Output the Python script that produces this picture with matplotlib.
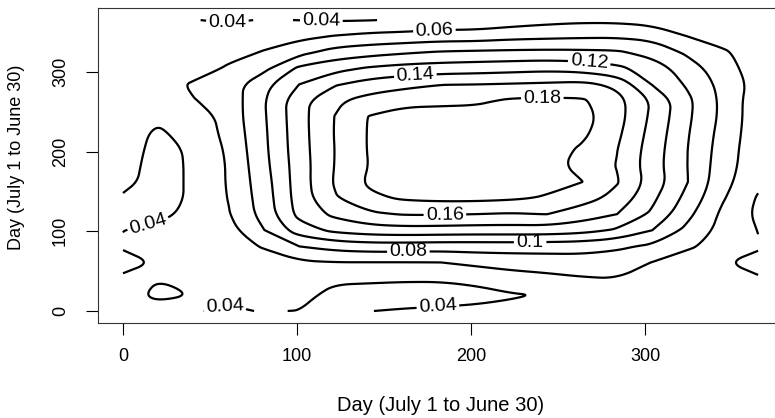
import numpy as np
import matplotlib
matplotlib.use("Agg")
import matplotlib.pyplot as plt
from matplotlib import font_manager
from matplotlib.path import Path

# ---- data ----
day_x = np.linspace(0, 365, 19)
day_y = np.linspace(0, 365, 19)
levels = [0.04, 0.06, 0.08, 0.10, 0.12, 0.14, 0.16, 0.18]
# rows: day_y from 0 (bottom) to 365 (top); columns: day_x from 0 to 365
density = np.array([
    [0.043, 0.045, 0.0404, 0.039, 0.0404, 0.0398, 0.038, 0.0399, 0.0408, 0.0416, 0.0428, 0.0439, 0.046, 0.047, 0.047, 0.046, 0.045, 0.045, 0.045],
    [0.045, 0.037, 0.0403, 0.0419, 0.045, 0.0438, 0.0365, 0.036, 0.0357, 0.0357, 0.036, 0.0385, 0.0413, 0.046, 0.048, 0.047, 0.046, 0.046, 0.046],
    [0.042, 0.0403, 0.043, 0.046, 0.048, 0.048, 0.0421, 0.0416, 0.0411, 0.0411, 0.0433, 0.0518, 0.055, 0.0585, 0.0599, 0.052, 0.046, 0.043, 0.0412],
    [0.036, 0.0411, 0.046, 0.049, 0.051, 0.057, 0.0595, 0.0595, 0.0595, 0.0598, 0.065, 0.0674, 0.0693, 0.0708, 0.0689, 0.0595, 0.048, 0.0408, 0.036],
    [0.0412, 0.043, 0.047, 0.052, 0.0617, 0.0801, 0.0872, 0.0904, 0.0902, 0.089, 0.0892, 0.0895, 0.0889, 0.0881, 0.0837, 0.0765, 0.0635, 0.051, 0.0415],
    [0.0398, 0.0441, 0.046, 0.053, 0.0797, 0.1103, 0.1249, 0.131, 0.1328, 0.132, 0.131, 0.131, 0.131, 0.127, 0.1175, 0.1001, 0.0749, 0.0535, 0.0395],
    [0.037, 0.036, 0.0443, 0.059, 0.0878, 0.1263, 0.1448, 0.157, 0.1616, 0.1616, 0.1602, 0.1585, 0.1605, 0.1506, 0.1402, 0.1166, 0.0853, 0.0558, 0.036],
    [0.0385, 0.035, 0.042, 0.061, 0.0897, 0.1292, 0.1583, 0.176, 0.183, 0.185, 0.185, 0.183, 0.1782, 0.1681, 0.1543, 0.1245, 0.0939, 0.062, 0.038],
    [0.0435, 0.035, 0.042, 0.062, 0.0917, 0.1301, 0.1618, 0.184, 0.19, 0.192, 0.193, 0.192, 0.187, 0.1805, 0.1616, 0.1316, 0.1005, 0.0663, 0.045],
    [0.045, 0.035, 0.042, 0.0621, 0.0943, 0.1304, 0.1604, 0.181, 0.189, 0.192, 0.193, 0.191, 0.186, 0.1749, 0.1591, 0.1292, 0.0999, 0.0691, 0.047],
    [0.046, 0.036, 0.042, 0.0637, 0.0959, 0.1316, 0.1601, 0.182, 0.19, 0.193, 0.194, 0.193, 0.189, 0.1773, 0.1605, 0.1306, 0.1001, 0.0709, 0.047],
    [0.047, 0.0375, 0.0464, 0.066, 0.0968, 0.1322, 0.1608, 0.182, 0.19, 0.193, 0.194, 0.193, 0.19, 0.1845, 0.1643, 0.133, 0.1015, 0.0728, 0.048],
    [0.047, 0.0432, 0.048, 0.068, 0.0979, 0.1328, 0.1604, 0.1815, 0.188, 0.19, 0.191, 0.191, 0.191, 0.1875, 0.1677, 0.1357, 0.1036, 0.0751, 0.048],
    [0.048, 0.046, 0.0589, 0.068, 0.0988, 0.1331, 0.157, 0.168, 0.1747, 0.175, 0.1761, 0.1834, 0.1838, 0.183, 0.1671, 0.1377, 0.1046, 0.0753, 0.048],
    [0.048, 0.047, 0.0639, 0.07, 0.0947, 0.1205, 0.1385, 0.1494, 0.155, 0.1598, 0.1605, 0.162, 0.1635, 0.166, 0.1556, 0.1196, 0.0974, 0.074, 0.052],
    [0.047, 0.047, 0.048, 0.0637, 0.0755, 0.1045, 0.114, 0.123, 0.1278, 0.130, 0.1314, 0.1332, 0.1352, 0.1326, 0.125, 0.1108, 0.0897, 0.0689, 0.05],
    [0.046, 0.047, 0.049, 0.052, 0.0617, 0.0742, 0.0881, 0.0932, 0.0979, 0.102, 0.1035, 0.1044, 0.105, 0.1044, 0.103, 0.093, 0.0767, 0.0629, 0.05],
    [0.045, 0.046, 0.048, 0.049, 0.05, 0.055, 0.061, 0.0653, 0.067, 0.0696, 0.0699, 0.0738, 0.0755, 0.077, 0.0775, 0.0745, 0.0598, 0.052, 0.048],
    [0.044, 0.043, 0.0405, 0.038, 0.0409, 0.0398, 0.0385, 0.0395, 0.042, 0.045, 0.046, 0.05, 0.054, 0.0563, 0.056, 0.052, 0.049, 0.047, 0.046],
])
x_ticks = [0, 100, 200, 300]
y_ticks = [0, 100, 200, 300]
x_title = "Day (July 1 to June 30)"
y_title = "Day (July 1 to June 30)"

# where the contour labels sit (layout, in data units)
label_spots = [(60, 362), (114, 364), (179, 350), (268, 314), (168, 296),
               (241, 268), (14, 112), (185, 120.5), (164, 74), (234, 86.6),
               (58.6, 3), (181, 5)]


def has_font(name):
    try:
        font_manager.findfont(font_manager.FontProperties(family=name),
                              fallback_to_default=False)
        return True
    except Exception:
        return False


def rounded(pts, closed, n=3):
    """Round the corners of a drawn contour polyline (Chaikin corner cutting)."""
    for _ in range(n):
        if len(pts) < 3:
            break
        if closed:
            p, q = pts, np.roll(pts, -1, axis=0)
            out = np.empty((2 * len(p), 2))
            out[0::2] = 0.75 * p + 0.25 * q
            out[1::2] = 0.25 * p + 0.75 * q
            pts = out
        else:
            p, q = pts[:-1], pts[1:]
            mid = np.empty((2 * len(p), 2))
            mid[0::2] = 0.75 * p + 0.25 * q
            mid[1::2] = 0.25 * p + 0.75 * q
            pts = np.vstack([pts[:1], mid, pts[-1:]])
    return pts


def round_paths(cset):
    new_paths = []
    for path in cset.get_paths():
        verts = path.vertices
        codes = path.codes
        if len(verts) == 0:
            new_paths.append(path)
            continue
        if codes is None:
            codes = np.full(len(verts), Path.LINETO, dtype=np.uint8)
            codes[0] = Path.MOVETO
        starts = list(np.where(codes == Path.MOVETO)[0])
        ends = starts[1:] + [len(verts)]
        vs, cs_ = [], []
        for s, e in zip(starts, ends):
            seg = verts[s:e]
            sc = codes[s:e]
            closed = sc[-1] == Path.CLOSEPOLY
            if closed:
                seg = seg[:-1]
            elif len(seg) > 3 and np.allclose(seg[0], seg[-1]):
                closed = True
                seg = seg[:-1]
            sm = rounded(seg, closed)
            if closed:
                sm = np.vstack([sm, sm[:1]])
                c = [Path.MOVETO] + [Path.LINETO] * (len(sm) - 2) + [Path.CLOSEPOLY]
            else:
                c = [Path.MOVETO] + [Path.LINETO] * (len(sm) - 1)
            vs.append(sm)
            cs_.append(np.array(c, dtype=np.uint8))
        new_paths.append(Path(np.vstack(vs), np.concatenate(cs_)))
    cset._paths = new_paths


base = "Liberation Sans" if has_font("Liberation Sans") else "DejaVu Sans"
plt.rcParams["font.family"] = [base, "DejaVu Sans"]

W, H = 775, 418
x0_px, ppu_x = 123.0, 1.74      # pixel of day 0, pixels per day (x)
y0_px, ppu_y = 311.0, 0.797     # pixel of day 0, pixels per day (y)
span = 365 * 0.04
lo, hi = -span, 365 + span

fig = plt.figure(figsize=(W / 100, H / 100), dpi=100)
left = x0_px + lo * ppu_x
bottom = y0_px - lo * ppu_y
top = y0_px - hi * ppu_y
width = (hi - lo) * ppu_x
ax = fig.add_axes([left / W, 1 - bottom / H, width / W, (bottom - top) / H])

cs = ax.contour(day_x, day_y, density, levels=levels, colors="black",
                linewidths=1.6)
round_paths(cs)
ax.clabel(cs, levels=levels, manual=label_spots, inline=True,
          inline_spacing=4, fmt=lambda v: f"{v:g}", fontsize=14)

ax.set_xlim(lo, hi)
ax.set_ylim(lo, hi)

ax.set_xticks(x_ticks)
ax.set_yticks(y_ticks)
ax.tick_params(direction="out", width=0.8, color="black", labelsize=13)
ax.tick_params(axis="x", length=8.5, pad=10)
ax.tick_params(axis="y", length=8.5, pad=12)
for t in ax.get_yticklabels():
    t.set_rotation(90)
    t.set_va("center")

for s in ax.spines.values():
    s.set_linewidth(0.8)
    s.set_color("#333333")

ax_w = width
ax_h = bottom - top
ax.set_xlabel(x_title, fontsize=14.5)
ax.xaxis.set_label_coords((441 - left) / ax_w, (bottom - 396) / ax_h)
ax.set_ylabel(y_title, fontsize=13)
ax.yaxis.set_label_coords((25 - left) / ax_w, (bottom - 157) / ax_h)

fig.savefig("out.png", dpi=100)
